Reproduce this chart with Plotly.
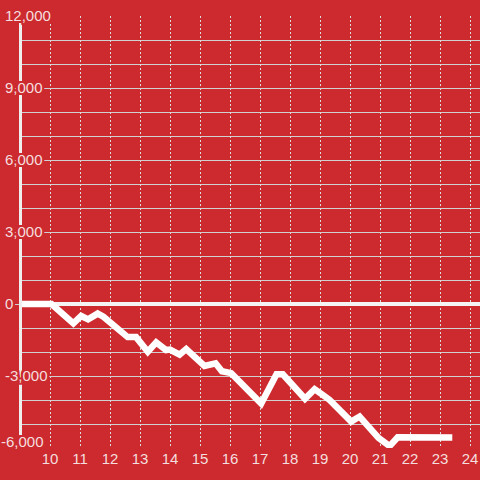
import plotly.graph_objects as go

# data
x_vals = [9.0, 10.05, 10.78, 11.04, 11.27, 11.59, 11.78, 12.1, 12.59, 12.87, 13.26, 13.54, 13.87,
          14.0, 14.32, 14.54, 15.15, 15.52, 15.73, 16.04, 17.04, 17.55, 17.76, 18.5, 18.82,
          19.09, 19.32, 20.04, 20.32, 20.95, 21.32, 21.59, 23.41]
y_vals = [0, 0, -810, -500, -640, -400, -530, -880, -1380, -1380, -1990, -1600, -1920,
          -1900, -2110, -1880, -2580, -2470, -2800, -2880, -4150, -2930, -2930, -3950, -3550,
          -3790, -4000, -4900, -4690, -5580, -5920, -5550, -5560]

x_tickvals = list(range(10, 25))
x_ticktext = [str(v) for v in x_tickvals]
y_tickvals = [-3000, 0, 3000, 6000, 9000, 12000]
y_ticktext = ["-3,000", "0", "3,000", "6,000", "9,000", "12,000"]
y_bottom_tickvals = [-6000]
y_bottom_ticktext = ["-6,000"]

BG = "#CC2A2F"
GRID = "#D0D0D0"
LABEL = "#F5DEDE"
shadow = ", ".join(f"{dx}px {dy}px 0 {BG}" for dx in (-2, -1, 0, 1, 2) for dy in (-2, -1, 0, 1, 2)
                   if not (dx == 0 and dy == 0))

fig = go.Figure()
fig.add_trace(go.Scatter(x=x_vals, y=y_vals, mode="lines",
                         line=dict(color="white", width=6.5), hoverinfo="skip"))
# invisible companion trace so the overlay axis (bottom label) is drawn
fig.add_trace(go.Scatter(x=x_vals, y=y_vals, yaxis="y2", mode="lines",
                         line=dict(color="rgba(0,0,0,0)", width=0), hoverinfo="skip"))

fig.update_layout(
    width=480, height=480,
    margin=dict(l=20, r=0, t=16, b=32),
    paper_bgcolor=BG, plot_bgcolor=BG,
    showlegend=False,
    font=dict(family="Liberation Sans, Arial, sans-serif", size=15, color=LABEL),
    xaxis=dict(
        range=[9, 9 + 460 / 30],
        tickvals=x_tickvals, ticktext=x_ticktext,
        showgrid=True, gridcolor="#DCDCDC", griddash="2px,2px", gridwidth=1,
        zeroline=False, showline=False, ticks="",
        tickfont=dict(size=15, color=LABEL),
    ),
    yaxis=dict(
        range=[-6000, 12000],
        side="right", anchor="free", position=0,
        tickvals=y_tickvals, ticktext=y_ticktext,
        showgrid=True, gridcolor=GRID, gridwidth=1,
        minor=dict(dtick=1000, tick0=0, showgrid=True, gridcolor=GRID, gridwidth=1, ticks=""),
        zeroline=True, zerolinecolor="#F4F4F4", zerolinewidth=3.5,
        showline=True, linecolor="#EEEEEE", linewidth=3,
        ticks="inside", ticklen=15, tickcolor=GRID, tickwidth=1,
        ticklabelposition="outside", ticklabelstandoff=-20,
        tickfont=dict(size=15, color=LABEL, shadow=shadow),
    ),
    yaxis2=dict(
        range=[-6000, 12000], overlaying="y",
        side="right", anchor="free", position=0,
        tickvals=y_bottom_tickvals, ticktext=y_bottom_ticktext,
        showgrid=False, zeroline=False, showline=False,
        ticks="inside", ticklen=15, tickcolor=GRID, tickwidth=1,
        ticklabelposition="outside", ticklabelstandoff=-20, ticklabelshift=-6,
        tickfont=dict(size=15, color=LABEL, shadow=shadow),
    ),
)

fig.write_html("out.html", config={"displayModeBar": False},
               post_script="document.body.style.margin='0';")
